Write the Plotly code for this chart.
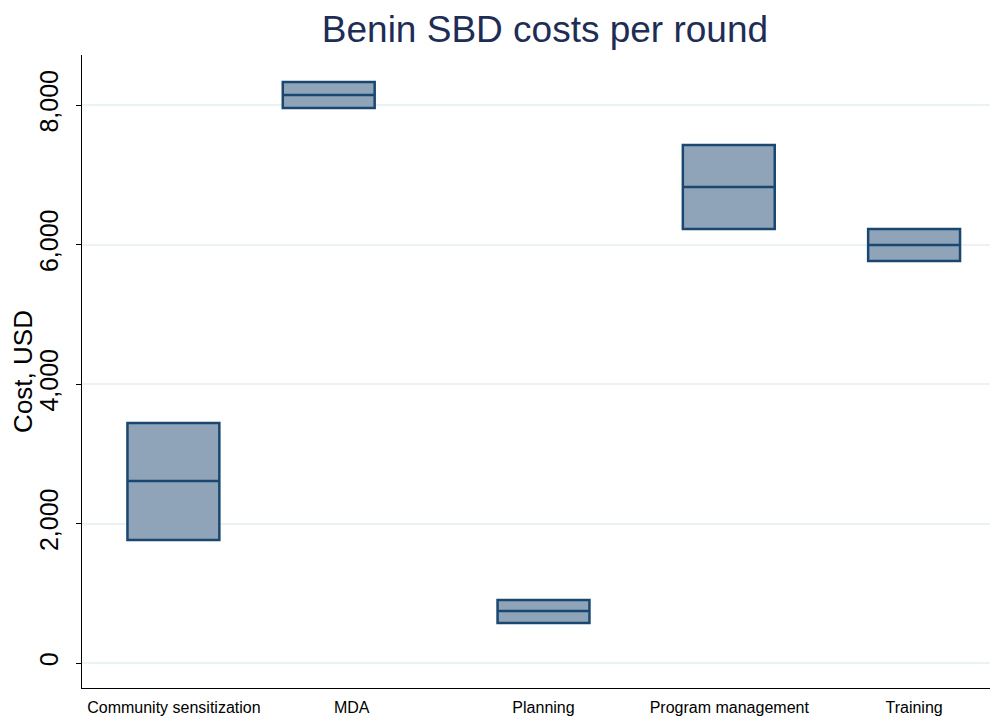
import plotly.graph_objects as go

# data
categories = ["Community sensitization", "MDA", "Planning", "Program management", "Training"]
label_pos = [92, 270, 462, 648, 833]
box_pos = [91.5, 247, 462, 647.5, 833]
q1 = [1763, 7957, 573, 6222, 5763]
median = [2609, 8143, 745, 6824, 5993]
q3 = [3441, 8330, 903, 7427, 6222]
y_ticks = [0, 2000, 4000, 6000, 8000]
y_ticktext = ["0", "2,000", "4,000", "6,000", "8,000"]

fig = go.Figure()
for i, name in enumerate(categories):
    fig.add_trace(go.Box(
        x=[box_pos[i]],
        q1=[q1[i]], median=[median[i]], q3=[q3[i]],
        lowerfence=[q1[i]], upperfence=[q3[i]],
        width=92,
        whiskerwidth=0,
        fillcolor="rgb(143,164,185)",
        line=dict(color="rgb(26,71,111)", width=2.5),
        name=name,
        showlegend=False,
        hoverinfo="skip",
    ))

# page body has an 8px margin, so the figure is a bit smaller than the window
fig.update_layout(
    width=990, height=709,
    margin=dict(l=74, r=1, t=47, b=29),
    paper_bgcolor="white", plot_bgcolor="white",
    font=dict(family="Liberation Sans, Arial, sans-serif", color="black"),
    title=dict(text="Benin SBD costs per round", x=0.5424, xanchor="center",
               y=0.970, yanchor="middle",
               font=dict(size=37, color="rgb(30,45,85)")),
)
fig.update_xaxes(
    range=[0, 916],
    tickmode="array", tickvals=label_pos, ticktext=categories,
    tickfont=dict(size=16), ticks="",
    ticklabelstandoff=5,
    showgrid=False, zeroline=False,
    showline=True, linecolor="black", linewidth=1,
)
fig.update_yaxes(
    range=[-358, 8717],
    tickmode="array", tickvals=y_ticks, ticktext=y_ticktext,
    tickangle=-90, tickfont=dict(size=25),
    ticks="outside", ticklen=5, tickcolor="black",
    ticklabelstandoff=8,
    showgrid=True, gridcolor="rgb(234,242,243)", gridwidth=2,
    zeroline=False,
    showline=True, linecolor="black", linewidth=1,
    title=dict(text="Cost, USD", font=dict(size=26), standoff=4),
)

fig.write_html("out.html")
